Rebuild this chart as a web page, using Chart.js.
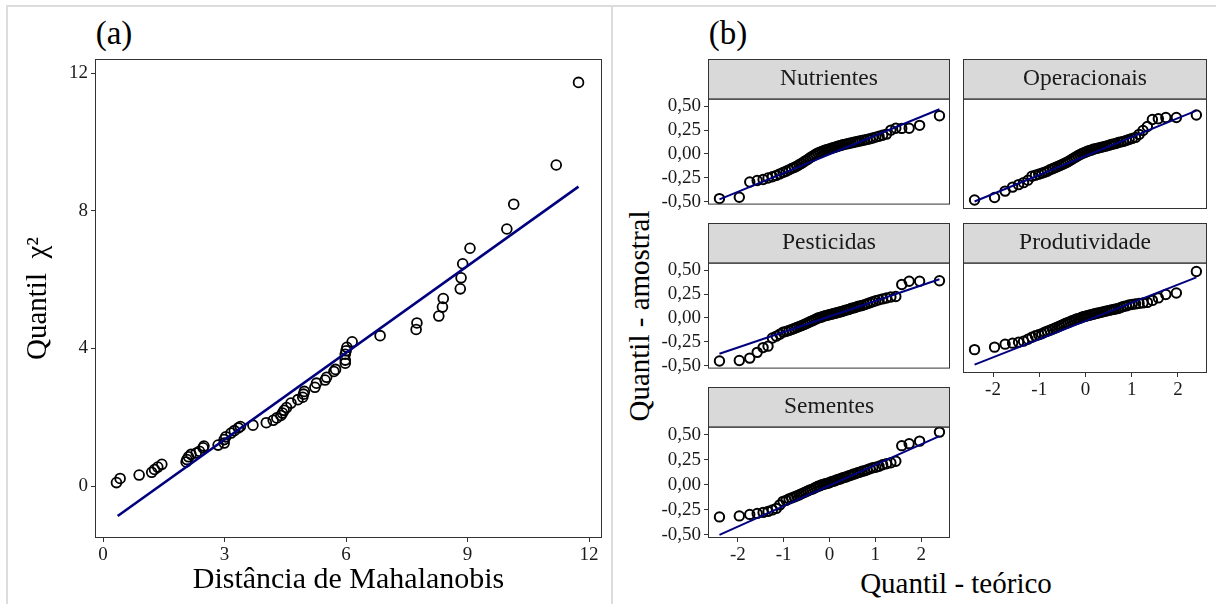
<!DOCTYPE html>
<html>
<head>
<meta charset="utf-8">
<script src="https://cdn.jsdelivr.net/npm/chart.js@4.4.1/dist/chart.umd.min.js"></script>
<style>
  body { margin: 0; width: 1216px; height: 604px; position: relative; overflow: hidden; background: #fff;
         font-family: 'Liberation Serif', 'Times New Roman', serif; }
  .rule { position: absolute; background: #dcdcdc; }
  .lbl { position: absolute; transform: translate(-50%, -50%); white-space: nowrap; line-height: 1; color: #000; }
  canvas { position: absolute; }
</style>
</head>
<body>
<div class="rule" style="left:7px;top:5px;width:1209px;height:2px"></div>
<div class="rule" style="left:6px;top:5px;width:2px;height:599px"></div>
<div class="rule" style="left:611px;top:5px;width:2px;height:599px"></div>

<div class="lbl" style="left:114px;top:33px;font-size:33px">(a)</div>
<div class="lbl" style="left:728px;top:33px;font-size:33px">(b)</div>
<div class="lbl" style="left:639px;top:316px;font-size:29px;transform:translate(-50%,-50%) rotate(-90deg)">Quantil - amostral</div>
<div class="lbl" style="left:956px;top:583px;font-size:29px">Quantil - teórico</div>

<canvas id="chartA" width="612" height="604" style="left:0;top:0"></canvas>
<canvas id="fNutrientes" width="340" height="160" style="left:615px;top:59px"></canvas>
<canvas id="fOperacionais" width="249" height="160" style="left:963px;top:59px"></canvas>
<canvas id="fPesticidas" width="340" height="160" style="left:615px;top:223px"></canvas>
<canvas id="fProdutividade" width="249" height="190" style="left:963px;top:223px"></canvas>
<canvas id="fSementes" width="340" height="191" style="left:615px;top:387px"></canvas>

<script>
const FONT = "'Liberation Serif', 'Times New Roman', serif";

// (a) Mahalanobis distance vs chi-square quantile
const mahalanobis = [0.33, 0.42, 0.89, 1.20, 1.27, 1.35, 1.45, 2.05, 2.07, 2.11, 2.17, 2.30, 2.38, 2.47, 2.49,
  2.84, 2.99, 2.99, 3.03, 3.16, 3.24, 3.34, 3.39, 3.70, 4.03, 4.20, 4.29, 4.39, 4.43, 4.47, 4.53, 4.64, 4.81,
  4.93, 4.95, 4.97, 5.23, 5.27, 5.48, 5.52, 5.70, 5.74, 5.98, 5.98, 5.98, 6.00, 6.02, 6.15, 6.84, 7.73, 7.75,
  8.29, 8.38, 8.40, 8.82, 8.84, 8.88, 9.06, 9.97, 10.14, 11.19, 11.74];
const chiQuantile = [0.10, 0.22, 0.32, 0.40, 0.48, 0.55, 0.63, 0.70, 0.77, 0.85, 0.92, 0.96, 1.01, 1.11, 1.16,
  1.19, 1.25, 1.35, 1.43, 1.54, 1.61, 1.69, 1.73, 1.77, 1.84, 1.91, 1.98, 2.05, 2.12, 2.20, 2.28, 2.41, 2.51,
  2.58, 2.67, 2.75, 2.87, 2.99, 3.08, 3.16, 3.33, 3.39, 3.57, 3.66, 3.83, 3.93, 4.03, 4.19, 4.37, 4.55, 4.74,
  4.94, 5.20, 5.45, 5.73, 6.05, 6.46, 6.91, 7.47, 8.19, 9.33, 11.73];
const lineAX = [0.36, 11.74];
const lineAY = [-0.87, 8.70];
const ticksAX = [0, 3, 6, 9, 12];
const ticksAY = [0, 4, 8, 12];

// (b) normal QQ plots, same theoretical quantiles for every facet
const theoretical = [-2.400, -1.967, -1.739, -1.577, -1.448, -1.340, -1.245, -1.160, -1.083, -1.012, -0.946,
  -0.883, -0.824, -0.768, -0.714, -0.662, -0.613, -0.563, -0.515, -0.468, -0.423, -0.379, -0.335, -0.292,
  -0.249, -0.207, -0.165, -0.124, -0.082, -0.041, 0, 0.041, 0.082, 0.124, 0.165, 0.207, 0.249, 0.292, 0.335,
  0.379, 0.423, 0.468, 0.515, 0.563, 0.613, 0.662, 0.714, 0.768, 0.824, 0.883, 0.946, 1.012, 1.083, 1.160,
  1.245, 1.340, 1.448, 1.577, 1.739, 1.967, 2.400];

const nutrientes = [-0.467, -0.453, -0.293, -0.277, -0.267, -0.252, -0.238, -0.224, -0.208, -0.193, -0.180,
  -0.166, -0.152, -0.140, -0.127, -0.113, -0.099, -0.084, -0.069, -0.055, -0.040, -0.026, -0.013, 0.000, 0.010,
  0.019, 0.027, 0.035, 0.042, 0.048, 0.054, 0.060, 0.066, 0.072, 0.078, 0.084, 0.090, 0.096, 0.101, 0.106,
  0.111, 0.116, 0.121, 0.126, 0.131, 0.136, 0.141, 0.147, 0.153, 0.160, 0.168, 0.177, 0.186, 0.196, 0.208,
  0.250, 0.270, 0.268, 0.270, 0.300, 0.400];
const operacionais = [-0.440, -0.415, -0.350, -0.310, -0.285, -0.265, -0.240, -0.200, -0.190, -0.180, -0.170,
  -0.160, -0.150, -0.135, -0.125, -0.115, -0.105, -0.095, -0.085, -0.075, -0.065, -0.055, -0.042, -0.030,
  -0.018, -0.006, 0.006, 0.016, 0.026, 0.034, 0.042, 0.050, 0.056, 0.062, 0.070, 0.075, 0.080, 0.085, 0.090,
  0.095, 0.100, 0.105, 0.112, 0.120, 0.125, 0.130, 0.140, 0.145, 0.150, 0.160, 0.170, 0.180, 0.190, 0.220,
  0.260, 0.300, 0.370, 0.378, 0.390, 0.390, 0.415];
const pesticidas = [-0.450, -0.445, -0.420, -0.360, -0.310, -0.295, -0.210, -0.190, -0.170, -0.150, -0.140,
  -0.130, -0.120, -0.110, -0.100, -0.090, -0.080, -0.070, -0.060, -0.050, -0.040, -0.030, -0.020, -0.010,
  0.000, 0.005, 0.010, 0.020, 0.025, 0.030, 0.035, 0.040, 0.045, 0.050, 0.055, 0.060, 0.065, 0.070, 0.080,
  0.085, 0.090, 0.100, 0.105, 0.110, 0.120, 0.125, 0.130, 0.140, 0.150, 0.160, 0.170, 0.180, 0.190, 0.200,
  0.210, 0.220, 0.225, 0.350, 0.385, 0.385, 0.390];
const produtividade = [-0.295, -0.270, -0.240, -0.230, -0.220, -0.210, -0.190, -0.170, -0.155, -0.145, -0.135,
  -0.120, -0.110, -0.100, -0.090, -0.080, -0.070, -0.060, -0.050, -0.040, -0.030, -0.025, -0.015, -0.005,
  0.000, 0.010, 0.015, 0.020, 0.030, 0.035, 0.040, 0.045, 0.050, 0.055, 0.060, 0.065, 0.070, 0.075, 0.080,
  0.085, 0.090, 0.095, 0.100, 0.105, 0.110, 0.115, 0.120, 0.130, 0.140, 0.145, 0.155, 0.160, 0.165, 0.170,
  0.175, 0.180, 0.200, 0.225, 0.260, 0.275, 0.490];
const sementes = [-0.320, -0.310, -0.295, -0.285, -0.275, -0.265, -0.250, -0.235, -0.200, -0.165, -0.155,
  -0.140, -0.130, -0.120, -0.110, -0.100, -0.090, -0.080, -0.070, -0.060, -0.050, -0.045, -0.035, -0.025,
  -0.015, -0.010, 0.000, 0.005, 0.010, 0.015, 0.020, 0.030, 0.035, 0.040, 0.050, 0.055, 0.060, 0.070, 0.075,
  0.080, 0.090, 0.095, 0.105, 0.110, 0.120, 0.125, 0.135, 0.140, 0.150, 0.160, 0.170, 0.175, 0.185, 0.200,
  0.210, 0.220, 0.235, 0.390, 0.410, 0.435, 0.525];

// qq reference lines, y at the two ends of qqLineX
const qqLineX = [-2.40, 2.40];
const lineNutrientes = [-0.475, 0.469];
const lineOperacionais = [-0.455, 0.459];
const linePesticidas = [-0.375, 0.405];
const lineProdutividade = [-0.446, 0.432];
const lineSementes = [-0.498, 0.485];

const ticksBX = [-2, -1, 0, 1, 2];
const ticksBY = [-0.50, -0.25, 0, 0.25, 0.50];

function toPoints(xs, ys) {
  return xs.map((x, i) => ({ x: x, y: ys[i] }));
}

// Dark grey frame round the plotting area
const panelBorder = {
  id: 'panelBorder',
  afterDatasetsDraw(chart) {
    const { ctx, chartArea: a } = chart;
    ctx.save();
    ctx.strokeStyle = '#333333';
    ctx.lineWidth = 1;
    ctx.strokeRect(a.left + 0.5, a.top + 0.5, a.width - 1, a.height - 1);
    ctx.restore();
  }
};

// Grey facet strip behind the title
const stripBox = {
  id: 'stripBox',
  beforeDraw(chart) {
    const { ctx, chartArea: a } = chart;
    ctx.save();
    ctx.fillStyle = '#d9d9d9';
    ctx.fillRect(a.left, 0, a.width, a.top);
    ctx.strokeStyle = '#333333';
    ctx.lineWidth = 1;
    ctx.strokeRect(a.left + 0.5, 0.5, a.width - 1, a.top);
    ctx.restore();
  }
};

const tickGrid = { display: true, drawOnChartArea: false, drawTicks: true, tickLength: 4, color: '#333333', lineWidth: 1 };

function pointSet(data, radius, width) {
  return {
    data: data,
    showLine: false,
    pointRadius: radius,
    pointBackgroundColor: 'rgba(0,0,0,0)',
    pointBorderColor: '#000000',
    pointBorderWidth: width
  };
}

function lineSet(data, width) {
  return {
    data: data,
    showLine: true,
    borderColor: '#00007f',
    borderWidth: width,
    pointRadius: 0,
    fill: false
  };
}

// Panel (a)
new Chart(document.getElementById('chartA'), {
  type: 'scatter',
  data: {
    datasets: [
      lineSet(toPoints(lineAX, lineAY), 2.6),
      pointSet(toPoints(mahalanobis, chiQuantile), 4.9, 1.8)
    ]
  },
  options: {
    responsive: false,
    animation: false,
    layout: { autoPadding: false, padding: { top: 59, right: 10, left: 0, bottom: 0 } },
    plugins: { legend: { display: false }, tooltip: { enabled: false } },
    scales: {
      x: {
        type: 'linear', min: -0.2, max: 12.32,
        afterBuildTicks: s => { s.ticks = ticksAX.map(v => ({ value: v })); },
        afterFit: s => { s.height = 66; },
        grid: tickGrid,
        border: { display: false },
        ticks: { color: '#1a1a1a', padding: 2, maxRotation: 0, font: { family: FONT, size: 19 } },
        title: { display: true, text: 'Distância de Mahalanobis', color: '#000',
                 padding: { top: 0, bottom: 6 }, font: { family: FONT, size: 30 } }
      },
      y: {
        type: 'linear', min: -1.51, max: 12.41,
        afterBuildTicks: s => { s.ticks = ticksAY.map(v => ({ value: v })); },
        afterFit: s => { s.width = 95; },
        grid: tickGrid,
        border: { display: false },
        ticks: { color: '#1a1a1a', padding: 3, font: { family: FONT, size: 19 } },
        title: { display: true, text: 'Quantil  χ²', color: '#000',
                 padding: { top: 21, bottom: 0 }, font: { family: FONT, size: 29 } }
      }
    }
  },
  plugins: [panelBorder]
});

// Panel (b) facets
function facet(id, name, values, lineY, showX, showY) {
  new Chart(document.getElementById(id), {
    type: 'scatter',
    data: {
      datasets: [
        lineSet(toPoints(qqLineX, lineY), 2),
        pointSet(toPoints(theoretical, values), 4.7, 2)
      ]
    },
    options: {
      responsive: false,
      animation: false,
      layout: { autoPadding: false, padding: { top: 0, right: 5, left: 0, bottom: showX ? 0 : 10 } },
      plugins: {
        legend: { display: false },
        tooltip: { enabled: false },
        title: {
          display: true, text: name, fullSize: false, color: '#1a1a1a',
          padding: { top: 6, bottom: 5.4 }, font: { family: FONT, size: 23.5, weight: 'normal', lineHeight: 1.2 }
        }
      },
      scales: {
        x: {
          type: 'linear', min: -2.65, max: 2.63, display: showX,
          afterBuildTicks: s => { s.ticks = ticksBX.map(v => ({ value: v })); },
          afterFit: s => { s.height = showX ? 40 : 0; },
          grid: tickGrid,
          border: { display: false },
          ticks: { color: '#1a1a1a', padding: 2, maxRotation: 0, font: { family: FONT, size: 19 } }
        },
        y: {
          type: 'linear', min: -0.53, max: 0.58, display: showY,
          afterBuildTicks: s => { s.ticks = ticksBY.map(v => ({ value: v })); },
          afterFit: s => { s.width = showY ? 93 : 0; },
          grid: tickGrid,
          border: { display: false },
          ticks: {
            color: '#1a1a1a', padding: 3, font: { family: FONT, size: 19 },
            callback: v => v.toFixed(2).replace('.', ',')
          }
        }
      }
    },
    plugins: [stripBox, panelBorder]
  });
}

facet('fNutrientes', 'Nutrientes', nutrientes, lineNutrientes, false, true);
facet('fOperacionais', 'Operacionais', operacionais, lineOperacionais, false, false);
facet('fPesticidas', 'Pesticidas', pesticidas, linePesticidas, false, true);
facet('fProdutividade', 'Produtividade', produtividade, lineProdutividade, true, false);
facet('fSementes', 'Sementes', sementes, lineSementes, true, true);
</script>
</body>
</html>
